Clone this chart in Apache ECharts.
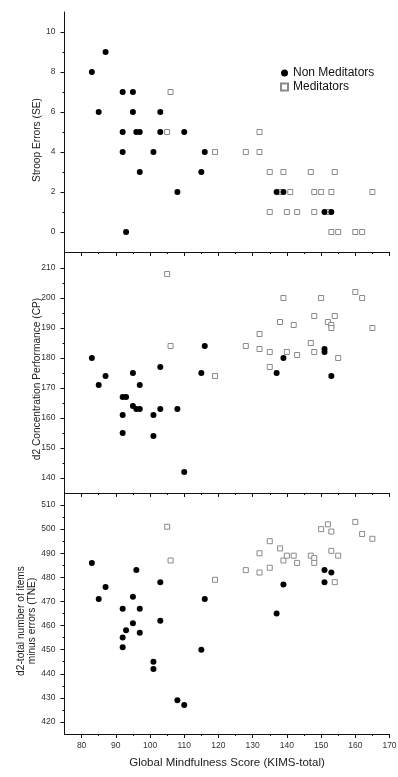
<!DOCTYPE html>
<html><head><meta charset="utf-8">
<script src="https://cdn.jsdelivr.net/npm/echarts@6/dist/echarts.min.js"></script>
<style>html,body{margin:0;padding:0;background:#fff}#c{width:398px;height:777px}</style>
</head><body><div id="c"></div>
<script>
// Tick labels
const xTicks = [80, 90, 100, 110, 120, 130, 140, 150, 160, 170];
const xMinorTicks = [85, 95, 105, 115, 125, 135, 145, 155, 165];
const seTicks = [0, 2, 4, 6, 8, 10];
const seMinorTicks = [1, 3, 5, 7, 9];
const cpTicks = [140, 150, 160, 170, 180, 190, 200, 210];
const cpMinorTicks = [145, 155, 165, 175, 185, 195, 205];
const tneTicks = [420, 430, 440, 450, 460, 470, 480, 490, 500, 510];
const tneMinorTicks = [425, 435, 445, 455, 465, 475, 485, 495, 505];

// Axis titles
const xTitle = 'Global Mindfulness Score (KIMS-total)';
const yTitles = ['Stroop Errors (SE)', 'd2 Concentration Performance (CP)', 'd2-total number of items\nminus errors (TNE)'];
const seriesNames = ['Non Meditators', 'Meditators'];

// Stroop Errors
const seNon = [[87,9],[83,8],[92,7],[95,7],[85,6],[95,6],[103,6],[92,5],[96,5],[97,5],[103,5],[110,5],[92,4],[101,4],[116,4],[97,3],[115,3],[108,2],[137,2],[139,2],[151,1],[153,1],[93,0]];
const seMed = [[106,7],[105,5],[132,5],[119,4],[128,4],[132,4],[135,3],[139,3],[147,3],[154,3],[138,2],[141,2],[148,2],[150,2],[153,2],[165,2],[135,1],[140,1],[143,1],[148,1],[152,1],[153,0],[155,0],[160,0],[162,0]];

// d2 Concentration Performance
const cpNon = [[83,180],[87,174],[85,171],[95,175],[97,171],[92,167],[93,167],[95,164],[96,163],[97,163],[92,161],[101,161],[103,163],[103,177],[108,163],[92,155],[101,154],[116,184],[115,175],[139,180],[137,175],[151,183],[151,182],[153,174],[110,142]];
const cpMed = [[105,208],[106,184],[119,174],[128,184],[132,188],[132,183],[135,182],[135,177],[138,192],[139,200],[140,182],[142,191],[143,181],[147,185],[148,194],[148,182],[150,200],[152,192],[153,191],[153,190],[154,194],[155,180],[160,202],[162,200],[165,190]];

// d2 total number of items minus errors
const tneNon = [[83,486],[87,476],[85,471],[96,483],[95,472],[92,467],[97,467],[95,461],[93,458],[97,457],[92,455],[92,451],[103,478],[103,462],[101,445],[101,442],[116,471],[115,450],[108,429],[110,427],[139,477],[137,465],[151,483],[151,478],[153,482]];
const tneMed = [[105,501],[106,487],[119,479],[128,483],[132,490],[132,482],[135,495],[135,484],[138,492],[139,487],[140,489],[142,489],[143,486],[147,489],[148,488],[148,486],[150,500],[152,502],[153,499],[153,491],[154,478],[155,489],[160,503],[162,498],[165,496]];

const FONT = 'Liberation Sans, Arial, sans-serif';
const AX = '#111';
const LBL = '#333';

const panels = [
  {top: 12, height: 240, min: -1, max: 11, ticks: seTicks, minor: seMinorTicks, non: seNon, med: seMed, titleX: 37, titleY: 140},
  {top: 253, height: 240, min: 135, max: 215, ticks: cpTicks, minor: cpMinorTicks, non: cpNon, med: cpMed, titleX: 37, titleY: 379},
  {top: 493, height: 241, min: 415, max: 515, ticks: tneTicks, minor: tneMinorTicks, non: tneNon, med: tneMed, titleX: 27, titleY: 621}
];

const grid = [], xAxis = [], yAxis = [], series = [], graphic = [];
panels.forEach((p, i) => {
  const last = i === panels.length - 1;
  grid.push({left: 64.5, width: 325, top: p.top, height: p.height, containLabel: false, outerBoundsMode: 'none'});
  xAxis.push({
    type: 'value', gridIndex: i, min: 75, max: 170, position: 'bottom',
    axisLine: {show: true, onZero: false, lineStyle: {color: AX, width: 1}},
    axisTick: {show: true, customValues: xTicks, length: 4, inside: false, lineStyle: {color: AX}},
    axisLabel: {show: last, customValues: xTicks, fontSize: 8.5, color: LBL, margin: 7, fontFamily: FONT},
    splitLine: {show: false},
    name: last ? xTitle : '',
    nameLocation: 'middle', nameGap: 23,
    nameTextStyle: {fontSize: 11.5, color: '#222', fontFamily: FONT}
  });
  xAxis.push({
    type: 'value', gridIndex: i, min: 75, max: 170, position: 'bottom',
    axisLine: {show: false, onZero: false},
    axisTick: {show: true, customValues: xMinorTicks, length: 2, lineStyle: {color: AX}},
    axisLabel: {show: false}, splitLine: {show: false}
  });
  yAxis.push({
    type: 'value', gridIndex: i, min: p.min, max: p.max, position: 'left',
    axisLine: {show: true, onZero: false, lineStyle: {color: AX, width: 1}},
    axisTick: {show: true, customValues: p.ticks, length: 4, lineStyle: {color: AX}},
    axisLabel: {show: true, customValues: p.ticks, fontSize: 8.5, color: LBL, margin: 9, fontFamily: FONT},
    splitLine: {show: false}
  });
  yAxis.push({
    type: 'value', gridIndex: i, min: p.min, max: p.max, position: 'left',
    axisLine: {show: false, onZero: false},
    axisTick: {show: true, customValues: p.minor, length: 2, lineStyle: {color: AX}},
    axisLabel: {show: false}, splitLine: {show: false}
  });
  series.push({
    type: 'scatter', name: seriesNames[1], xAxisIndex: 2 * i, yAxisIndex: 2 * i,
    data: p.med, symbol: 'rect', symbolSize: 5,
    itemStyle: {color: '#fff', borderColor: '#8a8a8a', borderWidth: 1, opacity: 1},
    emphasis: {disabled: true}, z: 2
  });
  series.push({
    type: 'scatter', name: seriesNames[0], xAxisIndex: 2 * i, yAxisIndex: 2 * i,
    data: p.non, symbol: 'circle', symbolSize: 6,
    itemStyle: {color: '#000', opacity: 1}, emphasis: {disabled: true}, z: 3
  });
  graphic.push({
    type: 'text', x: p.titleX, y: p.titleY, rotation: Math.PI / 2, silent: true,
    style: {
      text: yTitles[i], fill: '#222', fontSize: 10.2, fontFamily: FONT,
      align: 'center', verticalAlign: 'middle', textAlign: 'center', textVerticalAlign: 'middle',
      lineHeight: 11
    }
  });
});

const chart = echarts.init(document.getElementById('c'), null, {renderer: 'canvas'});
chart.setOption({
  animation: false,
  backgroundColor: '#fff',
  textStyle: {fontFamily: FONT},
  legend: {
    orient: 'vertical', left: 275, top: 62, itemWidth: 7, itemHeight: 7, itemGap: 2,
    selectedMode: false,
    textStyle: {fontSize: 12, color: '#111', fontFamily: FONT},
    data: [{name: seriesNames[0], icon: 'circle'}, {name: seriesNames[1], icon: 'rect'}]
  },
  graphic,
  grid, xAxis, yAxis, series
});
</script>
</body></html>
